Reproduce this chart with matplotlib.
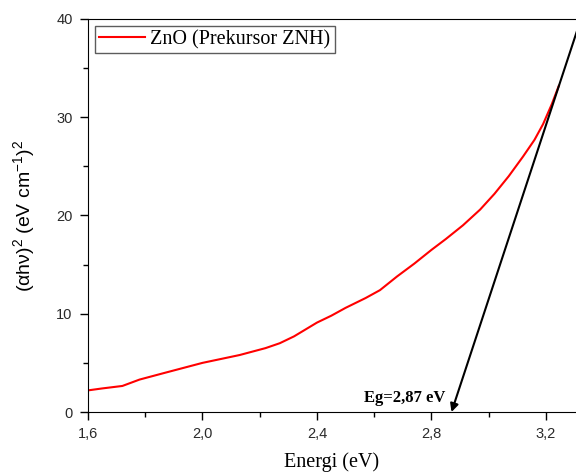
import matplotlib
matplotlib.use('Agg')
import matplotlib.pyplot as plt
from matplotlib.ticker import MultipleLocator, FuncFormatter


# values
energy = [1.60, 1.65, 1.72, 1.78, 1.87, 2.00, 2.13, 2.22, 2.27, 2.32, 2.36,
          2.40, 2.45, 2.50, 2.57, 2.62, 2.68, 2.74, 2.80, 2.85, 2.91, 2.97,
          3.02, 3.07, 3.12, 3.16, 3.19, 3.22, 3.245]
absorb = [2.2, 2.4, 2.65, 3.3, 4.0, 5.0, 5.8, 6.5, 7.0, 7.7, 8.4,
          9.1, 9.8, 10.6, 11.6, 12.4, 13.8, 15.1, 16.5, 17.6, 19.0, 20.6,
          22.2, 24.0, 26.0, 27.7, 29.3, 31.3, 33.2]

# tangent line (Tauc extrapolation)
eg = 2.87
tangent_x = [eg, 3.32]
tangent_y = [0.0, 39.8]

series_label = 'ZnO (Prekursor ZNH)'
eg_label = 'Eg=2,87 eV'

plt.rcParams['mathtext.fontset'] = 'custom'
plt.rcParams['mathtext.rm'] = 'Liberation Sans'
plt.rcParams['mathtext.it'] = 'Liberation Sans:italic'
plt.rcParams['mathtext.bf'] = 'Liberation Sans:bold'

fig = plt.figure(figsize=(5.76, 4.74), dpi=100)
ax = fig.add_axes([0.1528, 0.1308, 0.8472, 0.8292])

ax.plot(energy, absorb, color='red', lw=1.5, label=series_label)
ax.annotate('', xy=(tangent_x[0], tangent_y[0]), xytext=(tangent_x[1], tangent_y[1]),
            arrowprops=dict(arrowstyle='-|>', color='black', lw=1.5,
                            mutation_scale=12, shrinkA=0, shrinkB=0))
ax.text(2.847, 0.6, eg_label, ha='right', va='bottom', fontsize=12,
        fontweight='bold', family='Liberation Serif')

ax.set_xlim(1.6, 3.305)
ax.set_ylim(0, 40)

ax.xaxis.set_major_locator(MultipleLocator(0.4))
ax.xaxis.set_minor_locator(MultipleLocator(0.2))
ax.yaxis.set_major_locator(MultipleLocator(10))
ax.yaxis.set_minor_locator(MultipleLocator(5))
ax.xaxis.set_major_formatter(FuncFormatter(lambda v, p: f'{v:.1f}'.replace('.', ',')))

ax.tick_params(which='both', direction='out', top=False, right=False)
ax.tick_params(which='major', length=6, width=1, labelsize=10.5, pad=5)
ax.tick_params(which='minor', length=3.5, width=1)
for lab in ax.get_xticklabels() + ax.get_yticklabels():
    lab.set_family('Liberation Sans')
    lab.set_color('#2a2a2a')
ax.spines['right'].set_visible(False)

ax.set_xlabel('Energi (eV)', family='Liberation Serif', fontsize=14.5, labelpad=8)
ax.set_ylabel('(αhν)$^{2}$ (eV cm$^{-1}$)$^{2}$', family='Liberation Sans',
              fontsize=14, labelpad=14)

leg = ax.legend(loc='upper left', fancybox=False, handlelength=2.3,
                borderaxespad=0.35, prop={'family': 'Liberation Serif', 'size': 14.5},
                borderpad=0.2, handletextpad=0.25)
leg.get_frame().set_edgecolor('#333333')
leg.get_frame().set_linewidth(1.0)

fig.savefig('out.png', dpi=100)
